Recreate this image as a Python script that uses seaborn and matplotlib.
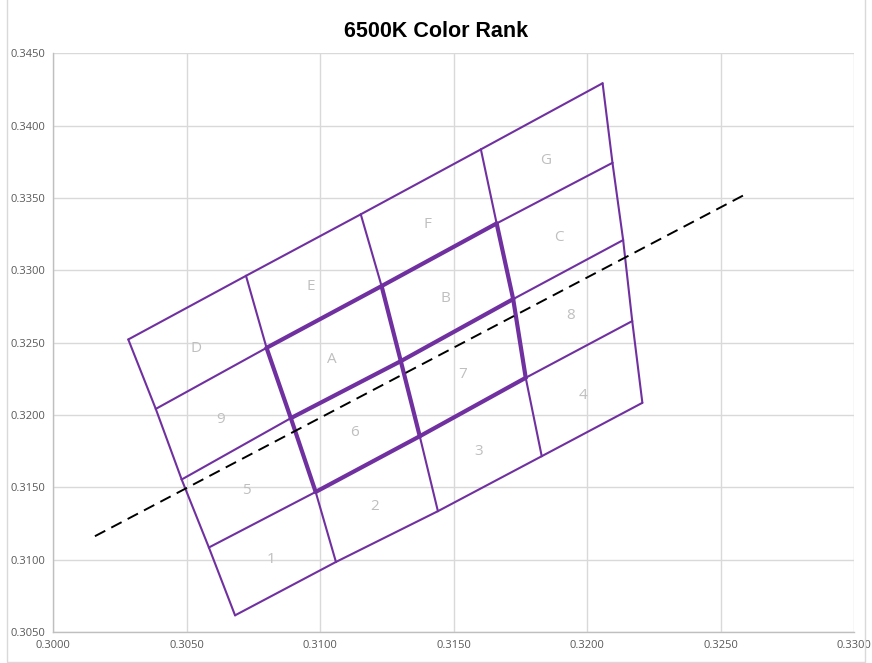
import matplotlib
matplotlib.use("Agg")
import matplotlib.pyplot as plt
import seaborn as sns
import pandas as pd
from matplotlib.patches import Rectangle

# vertex grid: rows run along the locus (top to bottom), columns left to right
grid_x = [
    [0.30281, 0.30722, 0.31152, 0.31602, 0.32058],
    [0.30384, 0.30799, 0.31230, 0.31661, 0.32095],
    [0.30481, 0.30890, 0.31302, 0.31723, 0.32135],
    [0.30583, 0.30983, 0.31373, 0.31770, 0.32169],
    [0.30681, 0.31059, 0.31441, 0.31830, 0.32207],
]
grid_y = [
    [0.32522, 0.32962, 0.33387, 0.33836, 0.34293],
    [0.32042, 0.32464, 0.32891, 0.33324, 0.33743],
    [0.31554, 0.31978, 0.32372, 0.32801, 0.33209],
    [0.31084, 0.31468, 0.31853, 0.32257, 0.32649],
    [0.30615, 0.30984, 0.31335, 0.31715, 0.32084],
]
cell_labels = [
    ["D", "E", "F", "G"],
    ["9", "A", "B", "C"],
    ["5", "6", "7", "8"],
    ["1", "2", "3", "4"],
]
locus_x = [0.30156, 0.32602]
locus_y = [0.31162, 0.33534]

xticks = [0.300, 0.305, 0.310, 0.315, 0.320, 0.325, 0.330]
yticks = [0.305, 0.310, 0.315, 0.320, 0.325, 0.330, 0.335, 0.340, 0.345]

purple = "#7030A0"

# build segments
rows = []
seg = 0
for i in range(5):
    for j in range(4):
        bold = i in (1, 2, 3) and j in (1, 2)
        for jj in (j, j + 1):
            rows.append(dict(seg=seg, x=grid_x[i][jj], y=grid_y[i][jj], bold=bold))
        seg += 1
for j in range(5):
    for i in range(4):
        bold = j in (1, 2, 3) and i in (1, 2)
        for ii in (i, i + 1):
            rows.append(dict(seg=seg, x=grid_x[ii][j], y=grid_y[ii][j], bold=bold))
        seg += 1
segs = pd.DataFrame(rows)

sns.set_theme(style="whitegrid")
plt.rcParams["font.family"] = ["Liberation Sans", "DejaVu Sans"]

fig = plt.figure(figsize=(8.72, 6.63), dpi=100)
ax = fig.add_axes([0.0611, 0.0468, 0.9183, 0.8728])

sns.lineplot(data=segs[~segs.bold], x="x", y="y", units="seg", estimator=None,
             sort=False, color=purple, linewidth=1.5, ax=ax)
sns.lineplot(data=segs[segs.bold], x="x", y="y", units="seg", estimator=None,
             sort=False, color=purple, linewidth=3.0, ax=ax)

line = pd.DataFrame({"x": locus_x, "y": locus_y})
sns.lineplot(data=line, x="x", y="y", sort=False, color="black",
             linewidth=1.4, linestyle=(0, (6, 3.5)), ax=ax)

for i in range(4):
    for j in range(4):
        cx = (grid_x[i][j] + grid_x[i][j + 1] + grid_x[i + 1][j] + grid_x[i + 1][j + 1]) / 4
        cy = (grid_y[i][j] + grid_y[i][j + 1] + grid_y[i + 1][j] + grid_y[i + 1][j + 1]) / 4
        ax.text(cx - 0.0001, cy - 0.0004, cell_labels[i][j], ha="center", va="center",
                color="#BFBFBF", fontsize=11, family=["Open Sans", "DejaVu Sans"])

ax.set_xlim(0.300, 0.330)
ax.set_ylim(0.305, 0.345)
ax.set_xticks(xticks)
ax.set_yticks(yticks)
ax.set_xticklabels([f"{v:.4f}" for v in xticks])
ax.set_yticklabels([f"{v:.4f}" for v in yticks])
ax.tick_params(axis="both", length=0, labelsize=8, colors="#595959", pad=6)
for lab in ax.get_xticklabels() + ax.get_yticklabels():
    lab.set_family(["Open Sans", "DejaVu Sans"])
ax.set_xlabel("")
ax.set_ylabel("")
ax.grid(True, color="#D9D9D9", linewidth=1)
ax.set_facecolor("white")
for side in ("top", "right"):
    ax.spines[side].set_visible(False)
for side in ("left", "bottom"):
    ax.spines[side].set_color("#BFBFBF")
    ax.spines[side].set_linewidth(1)

fig.text(0.5, 0.953, "6500K Color Rank", ha="center", va="center",
         fontsize=15.5, fontweight="bold", color="black")

fig.patches.append(Rectangle((0.008, 0.002), 0.984, 1.2, transform=fig.transFigure,
                             fill=False, edgecolor="#D9D9D9", linewidth=1))

fig.savefig("out.png", dpi=100, facecolor="white")
